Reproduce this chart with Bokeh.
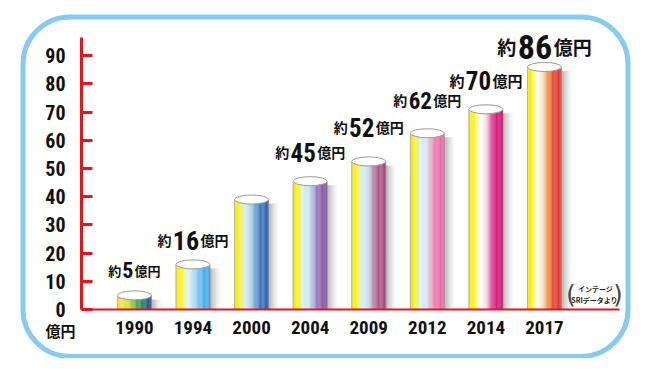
import numpy as np
from bokeh.plotting import figure
from bokeh.models import ColumnDataSource, Range1d, LinearAxis, FixedTicker, BoxAnnotation, Label
from bokeh.core.properties import value
from bokeh.embed import file_html
from bokeh.resources import INLINE

# ---------------- data ----------------
years = ["1990", "1994", "2000", "2004", "2009", "2012", "2014", "2017"]
sales = [5, 16, 39, 45.5, 52.5, 62.5, 71, 86]          # 億円
label_numbers = ["5", "16", "", "45", "52", "62", "70", "86"]
y_ticks = [0, 10, 20, 30, 40, 50, 60, 70, 80, 90]
label_prefix = "約"
label_suffix = "億円"
unit_text = "億円"
source_lines = ["インテージ", "SRIデータより"]

# ---------------- styles ----------------
bar_stops = [
    [(0.0, "#E6DC3C"), (0.15, "#ECE43C"), (0.35, "#CCD840"), (0.6, "#3CA24A"), (0.82, "#1F6A72"), (1.0, "#203A80")],
    [(0.0, "#EEDF10"), (0.12, "#FFF200"), (0.35, "#E4F3FA"), (0.55, "#A6D7F3"), (0.8, "#44ADE8"), (1.0, "#38A4E4")],
    [(0.0, "#EEDF10"), (0.12, "#FFF200"), (0.3, "#D6ECF6"), (0.45, "#BCDBEF"), (0.72, "#3E78C0"), (1.0, "#1E58A8")],
    [(0.0, "#EEDF10"), (0.12, "#FFF200"), (0.3, "#D6EDF6"), (0.48, "#C6E2F0"), (0.72, "#9070B2"), (1.0, "#7A3E96")],
    [(0.0, "#EEDF10"), (0.12, "#FFF200"), (0.3, "#D6EDF6"), (0.48, "#C8E2EE"), (0.72, "#B05A8C"), (1.0, "#A23E78")],
    [(0.0, "#EEDF10"), (0.12, "#FFF200"), (0.3, "#D6EDF6"), (0.48, "#D4E6F2"), (0.72, "#EA7AAA"), (1.0, "#E65A98")],
    [(0.0, "#EEDF10"), (0.12, "#FFF200"), (0.35, "#FFFFFF"), (0.5, "#F6E2EE"), (0.72, "#D82480"), (1.0, "#D0006E")],
    [(0.0, "#EEDF10"), (0.12, "#FFF200"), (0.3, "#FFFFFF"), (0.45, "#FBE2C4"), (0.6, "#F09442"), (0.78, "#E63C2E"), (1.0, "#E03030")],
]
num_px = [22, 26, 0, 25, 25, 23, 25, 34]
kanji_px = [13, 14, 0, 14, 14, 14, 15, 19]
lift_px = [25, 24, 0, 29, 34, 33, 29, 20]

NUM_FONT = "'Roboto Condensed', Roboto, sans-serif"
DIGIT_EM = 0.52
JP_FONT = "Noto Sans CJK JP"
RED = "#E8141C"

W, H = 634, 358
X0_PX, SLOT_PX = 133.9, 58.58     # first bar centre / spacing (px)
Y0_PX, UNIT_PX = 309.0, 2.82      # baseline from top / px per 億円
BAR_PX = 34.0


def px_x(px):
    return (px - X0_PX) / SLOT_PX


def hex2rgb(h):
    h = h.lstrip("#")
    return np.array([int(h[k:k + 2], 16) for k in (0, 2, 4)], dtype=float)


def interp(stops, t):
    for (t0, c0), (t1, c1) in zip(stops[:-1], stops[1:]):
        if t <= t1:
            f = 0 if t1 == t0 else (t - t0) / (t1 - t0)
            c = hex2rgb(c0) * (1 - f) + hex2rgb(c1) * f
            return "#%02x%02x%02x" % tuple(int(round(v)) for v in c)
    return stops[-1][1]


p = figure(width=W, height=H, output_backend="svg", toolbar_location=None,
           x_range=Range1d(px_x(0), px_x(W)),
           y_range=Range1d(-(H - Y0_PX) / UNIT_PX, Y0_PX / UNIT_PX),
           x_axis_type=None, y_axis_type=None, min_border=0)
p.outline_line_color = None
p.background_fill_color = "white"
p.border_fill_color = "white"

# rounded frame (screen units, measured from bottom)
p.add_layout(BoxAnnotation(left=22.5, right=627.5, top=H - 16.5, bottom=H - 356,
                           left_units="screen", right_units="screen",
                           top_units="screen", bottom_units="screen",
                           fill_color=None, fill_alpha=0, line_color="#88CBF0",
                           line_alpha=1.0, line_width=5,
                           border_radius=47, level="underlay"))

idx = list(range(len(years)))
bw = BAR_PX / SLOT_PX

# shadows
NS = 9
sx, st, sa = [], [], []
for i, v in zip(idx, sales):
    for k in range(NS):
        sx.append(i + bw / 2 + (k + 0.5) * (1.2 / SLOT_PX))
        st.append(v - 4 / UNIT_PX)
        sa.append(0.5 * (1 - k / NS) ** 1.5)
p.vbar(x=sx, top=st, bottom=0, width=1.25 / SLOT_PX, fill_color="#707070",
       fill_alpha=sa, line_color=None)

# gradient bodies
N = 40
bx, bt, bc = [], [], []
for i, v in zip(idx, sales):
    for k in range(N):
        t = (k + 0.5) / N
        bx.append(i - bw / 2 + t * bw)
        bt.append(v)
        bc.append(interp(bar_stops[i], t))
p.vbar(x=bx, top=bt, bottom=0, width=bw / N * 1.15, fill_color=bc, line_color=None)

# edges
p.segment(x0=[i - bw / 2 for i in idx], y0=[0] * len(idx), x1=[i - bw / 2 for i in idx], y1=sales,
          line_color="#B5B5A0", line_width=1)
p.segment(x0=[i + bw / 2 for i in idx], y0=[0] * len(idx), x1=[i + bw / 2 for i in idx], y1=sales,
          line_color="#8A8A8A", line_width=1, line_alpha=0.6)

# top caps
p.ellipse(x=idx, y=sales, width=bw, height=9, height_units="screen",
          fill_color="white", line_color="#9A9A9A", line_width=1)

# axes
yaxis = LinearAxis(fixed_location=px_x(81), ticker=FixedTicker(ticks=y_ticks),
                   bounds=(0, 96.5))
yaxis.axis_line_color = RED
yaxis.axis_line_width = 3
yaxis.major_tick_line_color = RED
yaxis.major_tick_line_width = 3
yaxis.major_tick_in = 11
yaxis.major_tick_out = 0
yaxis.minor_tick_line_color = None
yaxis.major_label_text_font = NUM_FONT
yaxis.major_label_text_font_style = "bold"
yaxis.major_label_text_font_size = "20px"
yaxis.major_label_text_color = "#111111"
yaxis.major_label_standoff = 16
p.add_layout(yaxis, "left")

xaxis = LinearAxis(fixed_location=0, ticker=FixedTicker(ticks=idx),
                   major_label_overrides={i: y for i, y in zip(idx, years)},
                   bounds=(px_x(81), px_x(619)))
xaxis.axis_line_color = RED
xaxis.axis_line_width = 2
xaxis.major_tick_line_color = None
xaxis.minor_tick_line_color = None
xaxis.major_label_text_font = NUM_FONT
xaxis.major_label_text_font_style = "bold"
xaxis.major_label_text_font_size = "19px"
xaxis.major_label_text_color = "#111111"
xaxis.major_label_standoff = 5
p.add_layout(xaxis, "below")

# value labels
nx, ny, ntxt, nxo, nyo, nfs = [], [], [], [], [], []
kx, ky, ktxt, kxo, kyo, kfs, kal = [], [], [], [], [], [], []
for i, (v, num) in enumerate(zip(sales, label_numbers)):
    if not num:
        continue
    fn, fk, lift = num_px[i], kanji_px[i], lift_px[i]
    wnum = len(num) * DIGIT_EM * fn
    c = -fk / 2.0
    nx.append(i); ny.append(v); ntxt.append(num); nxo.append(c); nyo.append(-lift); nfs.append(f"{fn}px")
    kx += [i, i]; ky += [v, v]; ktxt += [label_prefix, label_suffix]
    kxo += [c - wnum / 2 - 1, c + wnum / 2 + 1]; kyo += [-lift, -lift]
    kfs += [f"{fk}px", f"{fk}px"]; kal += ["right", "left"]

p.text(x="x", y="y", text="t", x_offset="xo", y_offset="yo", text_font_size="fs",
       source=ColumnDataSource(dict(x=nx, y=ny, t=ntxt, xo=nxo, yo=nyo, fs=nfs)),
       text_font=value(NUM_FONT), text_font_style="bold", text_color="#111111",
       text_align="center", text_baseline="alphabetic")
p.text(x="x", y="y", text="t", x_offset="xo", y_offset="yo", text_font_size="fs",
       text_align="al",
       source=ColumnDataSource(dict(x=kx, y=ky, t=ktxt, xo=kxo, yo=kyo, fs=kfs, al=kal)),
       text_font=value(JP_FONT), text_font_style="bold", text_color="#111111",
       text_baseline="alphabetic")

# unit label
p.add_layout(Label(x=60, y=H - 330, x_units="screen", y_units="screen", text=unit_text,
                   text_font=JP_FONT, text_font_style="bold", text_font_size="15px",
                   text_color="#111111", text_align="center", text_baseline="middle"))

# source note
p.add_layout(Label(x=595, y=H - 288, x_units="screen", y_units="screen", text=source_lines[0],
                   text_font=JP_FONT, text_font_style="bold", text_font_size="7px",
                   text_color="#222222", text_align="center", text_baseline="middle"))
p.add_layout(Label(x=594, y=H - 299, x_units="screen", y_units="screen", text=source_lines[1],
                   text_font=JP_FONT, text_font_style="bold", text_font_size="7px",
                   text_color="#222222", text_align="center", text_baseline="middle"))
for xp, ch in ((570.5, "("), (617.5, ")")):
    p.add_layout(Label(x=xp, y=H - 294.5, x_units="screen", y_units="screen", text=ch,
                       text_font="DejaVu Sans", text_font_size="24px",
                       text_color="#444444", text_align="center", text_baseline="middle"))

open("out.html", "w").write(file_html(p, INLINE))
